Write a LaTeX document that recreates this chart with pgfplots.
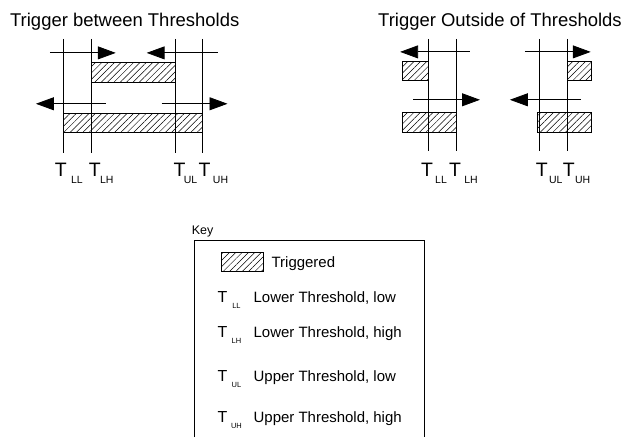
\documentclass[border=0pt]{standalone}
\usepackage{pgfplots}
\pgfplotsset{compat=1.18}
\usepackage{fontspec}
\setmainfont{Liberation Sans}
\usetikzlibrary{arrows.meta,patterns.meta}
\newcommand{\fs}[1]{\fontsize{#1}{#1}\selectfont}
\tikzset{arr/.style={-{Triangle[length=18pt,width=13pt]}}}
\begin{document}
\begin{tikzpicture}
\begin{axis}[
  width=625pt, height=438pt, scale only axis,
  xmin=0, xmax=625, ymin=0, ymax=438, y dir=reverse,
  hide axis, clip=false,
  cycle list={{black,solid,no marks}},
  every axis plot/.append style={line width=0.8pt, black, no marks},
]
\addplot[draw=none] coordinates {(0,0) (625,438)};
% ---- Trigger between thresholds
\addplot coordinates {(64,39) (64,153)};
\addplot coordinates {(92,39) (92,153)};
\addplot coordinates {(176,39) (176,153)};
\addplot coordinates {(203,39) (203,153)};
\addplot[pattern={Lines[angle=45,distance=4.5pt,line width=0.5pt]}] coordinates {(92,63) (176,63) (176,83) (92,83)} --cycle;
\addplot[pattern={Lines[angle=45,distance=4.5pt,line width=0.5pt]}] coordinates {(64,114) (203,114) (203,133) (64,133)} --cycle;
\addplot[arr] coordinates {(50,53) (116,53)};
\addplot[arr] coordinates {(218,53) (147,53)};
\addplot[arr] coordinates {(106,104) (36,104)};
\addplot[arr] coordinates {(162,104) (228,104)};
% ---- Trigger outside, left group
\addplot coordinates {(429,39) (429,151)};
\addplot coordinates {(457,39) (457,151)};
\addplot[pattern={Lines[angle=45,distance=4.5pt,line width=0.5pt]}] coordinates {(403,62) (429,62) (429,81) (403,81)} --cycle;
\addplot[pattern={Lines[angle=45,distance=4.5pt,line width=0.5pt]}] coordinates {(403,113) (457,113) (457,133) (403,133)} --cycle;
\addplot[arr] coordinates {(471,52) (401,52)};
\addplot[arr] coordinates {(414,100) (481,100)};
% ---- Trigger outside, right group
\addplot coordinates {(541,39) (541,151)};
\addplot coordinates {(569,39) (569,151)};
\addplot[pattern={Lines[angle=45,distance=4.5pt,line width=0.5pt]}] coordinates {(569,62) (593,62) (593,81) (569,81)} --cycle;
\addplot[pattern={Lines[angle=45,distance=4.5pt,line width=0.5pt]}] coordinates {(539,113) (593,113) (593,133) (539,133)} --cycle;
\addplot[arr] coordinates {(526,52) (592,52)};
\addplot[arr] coordinates {(582,100) (511,100)};
% ---- Key box
\addplot coordinates {(195,438) (195,241) (425,241) (425,438)};
\addplot[pattern={Lines[angle=45,distance=4.5pt,line width=0.5pt]}] coordinates {(222,253) (264,253) (264,272) (222,272)} --cycle;
% ---- Texts
\node[anchor=base, font=\fs{18.5}] at (axis cs:125,27) {Trigger between Thresholds};
\node[anchor=base, font=\fs{18.5}] at (axis cs:501,27) {Trigger Outside of Thresholds};
% threshold labels
\foreach \tx/\sx/\lab in {61/77/LL, 95/107/LH, 180/191/UL, 205/221/UH, 428/442/LL, 456/472/LH, 543/557/UL, 570/584/UH}{
  \edef\tmp{\noexpand\node[anchor=base, font=\noexpand\fs{19.5}, inner sep=0pt] at (axis cs:\tx,177) {T};
  \noexpand\node[anchor=base, font=\noexpand\fs{10.5}, inner sep=0pt] at (axis cs:\sx,184) {\lab};}
  \tmp
}
% key
\node[anchor=base west, font=\fs{12.5}, inner sep=0pt] at (axis cs:192,235) {Key};
\node[anchor=base west, font=\fs{15}, inner sep=0pt] at (axis cs:272,268) {Triggered};
\foreach \y/\lab/\txt in {303/LL/{Lower Threshold, low}, 338/LH/{Lower Threshold, high}, 382/UL/{Upper Threshold, low}, 423/UH/{Upper Threshold, high}}{
  \edef\tmp{\noexpand\node[anchor=base, font=\noexpand\fs{16}, inner sep=0pt] at (axis cs:223,\y) {T};
  \noexpand\node[anchor=base, font=\noexpand\fs{7.5}, inner sep=0pt] at (axis cs:237,\y+6) {\lab};
  \noexpand\node[anchor=base west, font=\noexpand\fs{15}, inner sep=0pt] at (axis cs:254,\y) {\txt};}
  \tmp
}
\end{axis}
\end{tikzpicture}
\end{document}
